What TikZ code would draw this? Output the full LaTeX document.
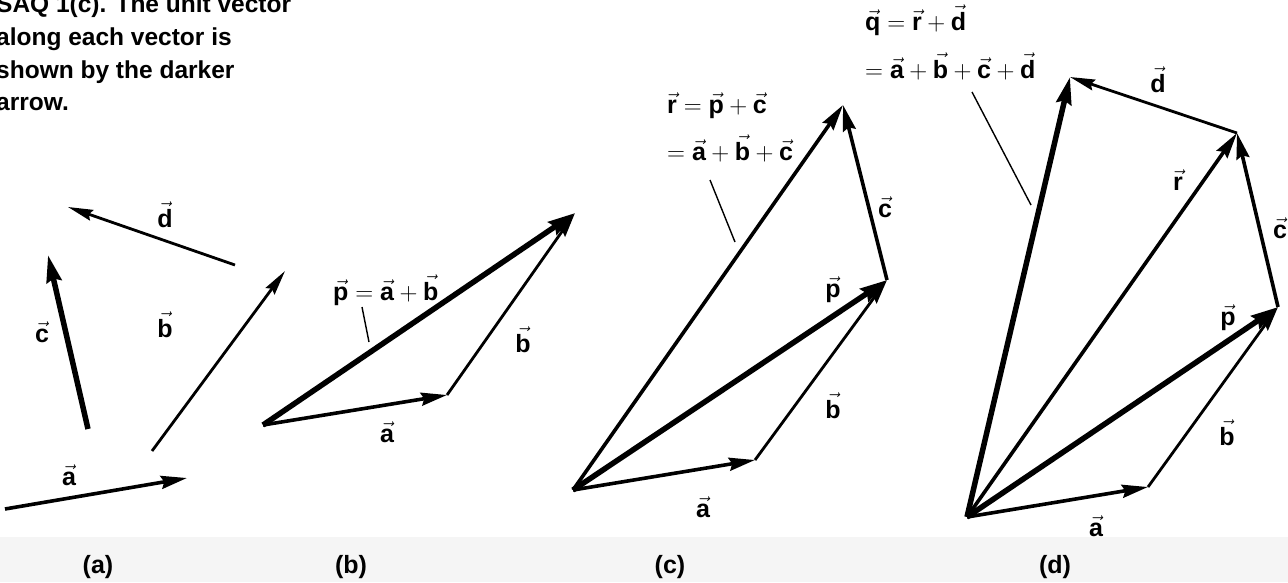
\documentclass[tikz,border=0pt]{standalone}
\usepackage{amsmath}
\usepackage{fontspec}
\setmainfont{Liberation Sans}
\usetikzlibrary{arrows.meta}
\newcommand{\vl}[1]{\vec{\textbf{#1}}}
\tikzset{
  vthin/.style={line width=2.8pt,-{Stealth[length=25pt,width=11pt,inset=3pt]}},
  vmid/.style={line width=3.6pt,-{Stealth[length=26pt,width=13pt,inset=3pt]}},
  vthick/.style={line width=5.5pt,-{Stealth[length=27pt,width=15pt,inset=3pt]}},
  leader/.style={line width=1.4pt},
  lab/.style={font=\fontsize{25}{30}\selectfont,inner sep=0pt,anchor=base},
  formula/.style={font=\fontsize{25}{30}\selectfont,inner sep=0pt,anchor=base west},
  caption/.style={font=\fontsize{24.5}{32}\selectfont\bfseries,inner sep=0pt,anchor=base west},
  panel/.style={font=\fontsize{25}{30}\selectfont\bfseries,inner sep=0pt,anchor=center}
}
\begin{document}
\begin{tikzpicture}[x=1pt,y=-1pt]
\useasboundingbox (0,0) rectangle (1288,582);
\fill[white] (0,0) rectangle (1288,582);
\fill[gray!8] (0,537) rectangle (1288,582);

% caption
\node[caption] (cap1) at (-4,12.5) {SAQ 1(c). The unit vector};
\node[caption] (cap2) at (-4,45) {along each vector is};
\node[caption] (cap3) at (-4,78) {shown by the darker};
\node[caption] (cap4) at (-4,110) {arrow.};

% ---------- panel (a)
\coordinate (aA1) at (5,509);   \coordinate (aA2) at (187,478);
\coordinate (bA1) at (152,451); \coordinate (bA2) at (285,271);
\coordinate (cA1) at (88,429);  \coordinate (cA2) at (48,255);
\coordinate (dA1) at (235,265); \coordinate (dA2) at (68,207);
\draw[vmid] (aA1) -- (aA2);
\draw[vthin] (bA1) -- (bA2);
\draw[vthick] (cA1) -- (cA2);
\draw[vthin] (dA1) -- (dA2);
\node[lab] (ldA) at (165,227) {$\vl{d}$};
\node[lab] (lcA) at (42,342) {$\vl{c}$};
\node[lab] (lbA) at (165,337) {$\vl{b}$};
\node[lab] (laA) at (69,485) {$\vl{a}$};

% ---------- panel (b)
\coordinate (Ob) at (263,425);
\coordinate (Ab) at (447,395);
\coordinate (Pb) at (575,213);
\draw[vmid] (Ob) -- (Ab);
\draw[vthin] (Ab) -- (Pb);
\draw[vthick] (Ob) -- (Pb);
\node[formula] (fB) at (333,300) {$\vl{p}=\vl{a}+\vl{b}$};
\coordinate (lB1) at (362,307); \coordinate (lB2) at (369,342);
\draw[leader] (lB1) -- (lB2);
\node[lab] (lbB) at (523,352) {$\vl{b}$};
\node[lab] (laB) at (387,442) {$\vl{a}$};

% ---------- panel (c)
\coordinate (Oc) at (573,490);
\coordinate (Ac) at (755,460);
\coordinate (Pc) at (887,280);
\coordinate (Rc) at (843,105);
\draw[vmid] (Oc) -- (Ac);
\draw[vthin] (Ac) -- (Pc);
\draw[vmid] (Oc) -- (Rc);
\draw[vmid] (Pc) -- (Rc);
\draw[vthick] (Oc) -- (Pc);
\node[formula] (fC1) at (667,113) {$\vl{r}=\vl{p}+\vl{c}$};
\node[formula] (fC2) at (667,160) {$=\vl{a}+\vl{b}+\vl{c}$};
\coordinate (lC1) at (710,180); \coordinate (lC2) at (735,242);
\draw[leader] (lC1) -- (lC2);
\node[lab] (lcC) at (885,217) {$\vl{c}$};
\node[lab] (lpC) at (833,297) {$\vl{p}$};
\node[lab] (lbC) at (833,418) {$\vl{b}$};
\node[lab] (laC) at (703,517) {$\vl{a}$};

% ---------- panel (d)
\coordinate (Od) at (967,517);
\coordinate (Ad) at (1148,487);
\coordinate (Pd) at (1278,307);
\coordinate (Rd) at (1237,133);
\coordinate (Qd) at (1070,77);
\draw[vmid] (Od) -- (Ad);
\draw[vthin] (Ad) -- (Pd);
\draw[vmid] (Od) -- (Rd);
\draw[vmid] (Pd) -- (Rd);
\draw[vthin] (Rd) -- (Qd);
\draw[vthick] (Od) -- (Pd);
\draw[vthick] (Od) -- (Qd);
\node[formula] (fD1) at (865,30) {$\vl{q}=\vl{r}+\vl{d}$};
\node[formula] (fD2) at (865,78) {$=\vl{a}+\vl{b}+\vl{c}+\vl{d}$};
\coordinate (lD1) at (972,92); \coordinate (lD2) at (1031,205);
\draw[leader] (lD1) -- (lD2);
\node[lab] (ldD) at (1158,92) {$\vl{d}$};
\node[lab] (lrD) at (1178,190) {$\vl{r}$};
\node[lab] (lcD) at (1280,238) {$\vl{c}$};
\node[lab] (lpD) at (1228,325) {$\vl{p}$};
\node[lab] (lbD) at (1227,445) {$\vl{b}$};
\node[lab] (laD) at (1096,536) {$\vl{a}$};

% panel labels
\node[panel] (pa) at (98,567) {(a)};
\node[panel] (pb) at (351,567) {(b)};
\node[panel] (pc) at (670,567) {(c)};
\node[panel] (pd) at (1055,567) {(d)};
\end{tikzpicture}
\end{document}
